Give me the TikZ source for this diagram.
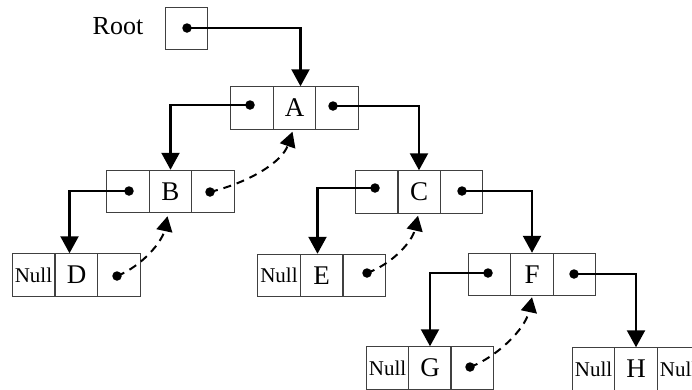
\documentclass[tikz,border=0pt]{standalone}
\usepackage{fontspec}
\setmainfont{Liberation Serif}
\usetikzlibrary{arrows.meta}
\begin{document}
\begin{tikzpicture}[x=1pt,y=-1pt,
 cell/.style={draw=black!75, line width=1pt, minimum width=42.5pt, minimum height=42.5pt, inner sep=0pt, font=\fontsize{27}{27}\selectfont, anchor=center},
 nullcell/.style={cell, font=\fontsize{21}{21}\selectfont},
 ptr/.style={line width=2.3pt, -{Triangle[length=17pt,width=18pt]}},
 thr/.style={line width=2pt, dash pattern=on 8pt off 6pt, -{Triangle[length=15pt,width=16pt]}},
 dot/.style={circle, fill=black, inner sep=0pt, minimum size=9.5pt}]
\clip (0,0) rectangle (692,389);
% Root
\node[font=\fontsize{26}{26}\selectfont] (rootlbl) at (118,26) {Root};
\node[cell, minimum width=42pt, minimum height=42pt] (R) at (186,28) {};
% A
\node[cell] (Al) at (252,108) {};
\node[cell] (A) at (294.5,108) {A};
\node[cell] (Ar) at (337,108) {};
% B
\node[cell] (Bl) at (128,191.5) {};
\node[cell] (B) at (170.5,191.5) {B};
\node[cell] (Br) at (213,191.5) {};
% C
\node[cell] (Cl) at (377,192) {};
\node[cell] (C) at (419,192) {C};
\node[cell] (Cr) at (461.5,192) {};
% D
\node[nullcell] (Dl) at (33.5,275) {Null};
\node[cell] (D) at (76.5,275) {D};
\node[cell] (Dr) at (119,275) {};
% E
\node[nullcell] (El) at (279,275.5) {Null};
\node[cell] (E) at (321.5,275.5) {E};
\node[cell] (Er) at (364.5,275.5) {};
% F
\node[cell] (Fl) at (489.5,274.5) {};
\node[cell] (F) at (532,274.5) {F};
\node[cell] (Fr) at (574.5,274.5) {};
% G
\node[nullcell] (Gl) at (387.5,368) {Null};
\node[cell] (G) at (430,368) {G};
\node[cell] (Gr) at (472,368) {};
% H
\node[nullcell] (Hl) at (593.5,369) {Null};
\node[cell] (H) at (636,369) {H};
\node[nullcell] (Hr) at (678.5,369) {Null};
% dots
\node[dot] (dR) at (187,28) {};
\node[dot] (dA1) at (250,105) {};
\node[dot] (dA2) at (333,106) {};
\node[dot] (dB1) at (129,191) {};
\node[dot] (dB2) at (210,192) {};
\node[dot] (dC1) at (375,188) {};
\node[dot] (dC2) at (462,191) {};
\node[dot] (dD2) at (117,276) {};
\node[dot] (dE2) at (367,273) {};
\node[dot] (dF1) at (488,273) {};
\node[dot] (dF2) at (574,274) {};
\node[dot] (dG2) at (470,367) {};
% child pointers
\draw[ptr] (dR.center) -| ([xshift=6pt]A.north);
\draw[ptr] (dA1.center) -| (B.north);
\draw[ptr] (dA2.center) -| (C.north);
\draw[ptr] (dB1.center) -| ([xshift=-7pt]D.north);
\draw[ptr] (dC1.center) -| ([xshift=-4pt]E.north);
\draw[ptr] (dC2.center) -| (F.north);
\draw[ptr] (dF1.center) -| (G.north);
\draw[ptr] (dF2.center) -| (H.north);
% thread pointers
\draw[thr] (dB2.center) .. controls (250,182) and (282,162) .. ([xshift=-2pt,yshift=-2pt]A.south);
\draw[thr] (dD2.center) .. controls (142,266) and (162,242) .. ([xshift=-3pt,yshift=-3pt]B.south);
\draw[thr] (dE2.center) .. controls (392,264) and (412,242) .. ([xshift=-1pt,yshift=-2pt]C.south);
\draw[thr] (dG2.center) .. controls (495,358) and (525,330) .. ([yshift=-1pt]F.south);
\end{tikzpicture}
\end{document}
